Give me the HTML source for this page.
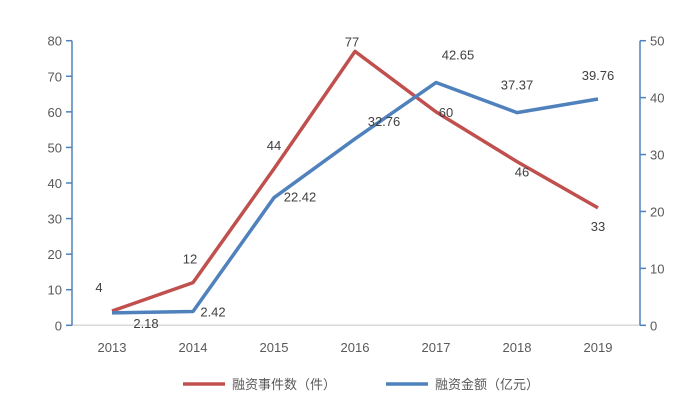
<!DOCTYPE html>
<html><head><meta charset="utf-8"><style>
html,body{margin:0;padding:0;background:#fff;}
svg{display:block;font-family:"Liberation Sans","Noto Sans CJK SC",sans-serif;}
</style></head><body>
<svg id="chart" width="699" height="413" viewBox="0 0 699 413"></svg>
<script>
const categories=["2013","2014","2015","2016","2017","2018","2019"];
const eventCounts=[4,12,44,77,60,46,33];
const amounts=[2.18,2.42,22.42,32.76,42.65,37.37,39.76];
const leftTicks=[0,10,20,30,40,50,60,70,80];
const rightTicks=[0,10,20,30,40,50];
const NS="http://www.w3.org/2000/svg";
const svg=document.getElementById('chart');
const X0=112,DX=81,Y0=325.3,YT=40.7,LA=72,RA=640;
const x=i=>X0+i*DX;
const yL=v=>Y0-(v/80)*(Y0-YT);
const yR=v=>Y0-(v/50)*(Y0-YT);
function el(t,a,txt){const e=document.createElementNS(NS,t);for(const k in a)e.setAttribute(k,a[k]);if(txt!==undefined)e.textContent=txt;svg.appendChild(e);return e;}
let e;
e=el('line',{x1:LA,y1:Y0,x2:RA,y2:Y0,stroke:'#d9d9d9','stroke-width':1.5});


e=el('line',{x1:LA,y1:YT,x2:LA,y2:Y0,stroke:'#4f81bd','stroke-width':1.5});


e=el('line',{x1:RA,y1:YT,x2:RA,y2:Y0,stroke:'#4f81bd','stroke-width':1.5});


leftTicks.forEach(v=>{
 e=el('line',{x1:LA-6,y1:yL(v),x2:LA,y2:yL(v),stroke:'#4f81bd','stroke-width':1.5});
 
 
 e=el('text',{x:LA-10,y:yL(v)+5,'text-anchor':'end','font-size':13,fill:'#595959'},String(v));
 
 
});
rightTicks.forEach(v=>{
 e=el('line',{x1:RA,y1:yR(v),x2:RA+6,y2:yR(v),stroke:'#4f81bd','stroke-width':1.5});
 
 
 e=el('text',{x:RA+10,y:yR(v)+5,'text-anchor':'start','font-size':13,fill:'#595959'},String(v));
 
 
});
categories.forEach((c,i)=>{
 e=el('text',{x:x(i),y:352,'text-anchor':'middle','font-size':13,fill:'#595959'},c);
 
 
});
e=el('polyline',{points:eventCounts.map((v,i)=>x(i)+','+yL(v)).join(' '),fill:'none',stroke:'#c0504d','stroke-width':3.5,'stroke-linejoin':'round'});


e=el('polyline',{points:amounts.map((v,i)=>x(i)+','+yR(v)).join(' '),fill:'none',stroke:'#4f81bd','stroke-width':3.5,'stroke-linejoin':'round'});


const redOff=[[-13,-24],[-3,-24],[0,-24],[-3,-10],[10,0],[5,10],[0,18]];
eventCounts.forEach((v,i)=>{
 e=el('text',{x:x(i)+redOff[i][0],y:yL(v)+redOff[i][1]+5,'text-anchor':'middle','font-size':13,fill:'#404040'},String(v));
 
 
});
const blueOff=[[34,10],[20,0],[26,-1],[29,-18],[22,-28],[0,-28],[0,-24]];
amounts.forEach((v,i)=>{
 e=el('text',{x:x(i)+blueOff[i][0],y:yR(v)+blueOff[i][1]+5,'text-anchor':'middle','font-size':13,fill:'#404040'},v.toFixed(2));
 
 
});
e=el('line',{x1:183,y1:384,x2:225,y2:384,stroke:'#c0504d','stroke-width':3.5});


e=el('text',{x:232,y:389,'font-size':13,fill:'#595959'},'融资事件数（件）');


e=el('line',{x1:386,y1:384,x2:428,y2:384,stroke:'#4f81bd','stroke-width':3.5});


e=el('text',{x:435,y:389,'font-size':13,fill:'#595959'},'融资金额（亿元）');


</script>
</body></html>
